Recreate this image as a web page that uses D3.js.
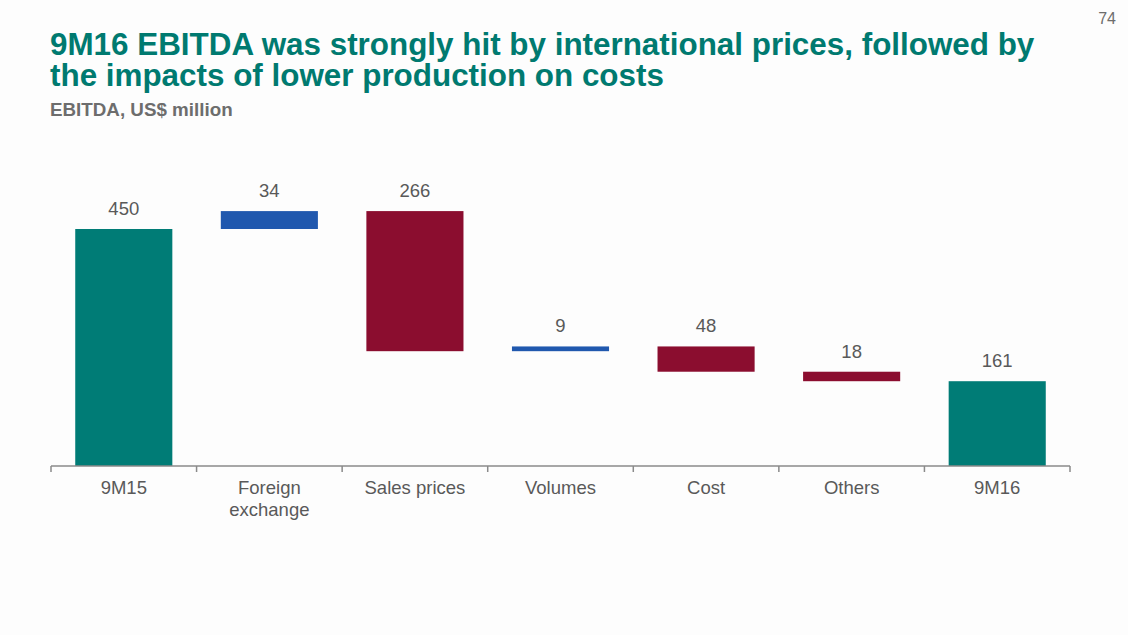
<!DOCTYPE html>
<html><head><meta charset="utf-8">
<script src="https://cdn.jsdelivr.net/npm/d3@7"></script>
<style>html,body{margin:0;padding:0;background:#fdfdfd;}svg{display:block;}</style>
</head><body><svg id="c" width="1128" height="635"></svg>
<script>
const categories = ["9M15", "Foreign exchange", "Sales prices", "Volumes", "Cost", "Others", "9M16"];
const values = [450, 34, -266, 9, -48, -18, 161];
const kinds = ["total", "delta", "delta", "delta", "delta", "delta", "total"];
const labelLines = [["9M15"], ["Foreign", "exchange"], ["Sales prices"], ["Volumes"], ["Cost"], ["Others"], ["9M16"]];
const titleLines = ["9M16 EBITDA was strongly hit by international prices, followed by", "the impacts of lower production on costs"];

const W = 1128, H = 635;
const svg = d3.select("#c");
const font = "'Liberation Sans', Arial, sans-serif";
const colors = {total: "#007c76", up: "#2058ae", down: "#8b0d2f"};

// compute waterfall
let run = 0;
const bars = categories.map((c, i) => {
  let y0, y1, type;
  if (kinds[i] === "total") { y0 = 0; y1 = values[i]; run = values[i]; type = "total"; }
  else { y0 = run; y1 = run + values[i]; run = y1; type = values[i] >= 0 ? "up" : "down"; }
  return {c, i, lo: Math.min(y0, y1), hi: Math.max(y0, y1), type, label: Math.abs(values[i])};
});

const x = d3.scaleBand().domain(categories).range([51, 1070]).paddingInner(0.333).paddingOuter(0.1665);
const y = d3.scaleLinear().domain([0, 450]).range([466, 229]);

// title (one text block, two lines)
const title = svg.append("text").attr("x", 50).attr("y", 55).attr("font-family", font).attr("font-weight", "bold")
  .attr("font-size", 31.4).attr("fill", "#007a70");
title.selectAll("tspan").data(titleLines).join("tspan")
  .attr("x", 50).attr("dy", (d, j) => j === 0 ? 0 : 31).text(d => d);
svg.append("text").attr("x", 50).attr("y", 116).attr("font-family", font).attr("font-weight", "bold")
  .attr("font-size", 18.8).attr("fill", "#6d6d6d").text("EBITDA, US$ million");
svg.append("text").attr("x", 1116).attr("y", 24).attr("text-anchor", "end").attr("font-family", font)
  .attr("font-size", 16).attr("fill", "#6d6d6d").text("74");

// bars
svg.append("g").selectAll("rect").data(bars).join("rect")
  .attr("x", d => x(d.c)).attr("width", x.bandwidth())
  .attr("y", d => y(d.hi)).attr("height", d => Math.max(1, y(d.lo) - y(d.hi)))
  .attr("fill", d => colors[d.type]);

// value labels
svg.append("g").selectAll("text").data(bars).join("text")
  .attr("x", d => x(d.c) + x.bandwidth() / 2).attr("y", d => y(d.hi) - 14)
  .attr("text-anchor", "middle").attr("font-family", font).attr("font-size", 18.5).attr("fill", "#595959")
  .text(d => d.label);

// axis
const axisY = y(0);
const g = svg.append("g").attr("transform", `translate(0,${axisY})`);
g.append("line").attr("x1", 51).attr("x2", 1070).attr("stroke", "#8a8a8a").attr("stroke-width", 1.5);
const tickXs = categories.map(c => x(c) - x.step() * x.paddingInner() / 2).concat([1070]);
g.selectAll("line.t").data(tickXs).join("line").attr("class", "t")
  .attr("x1", d => d).attr("x2", d => d).attr("y1", 0).attr("y2", 6).attr("stroke", "#8a8a8a").attr("stroke-width", 1.5);

const lab = svg.append("g").selectAll("text").data(categories).join("text")
  .attr("x", c => x(c) + x.bandwidth() / 2).attr("y", 494)
  .attr("text-anchor", "middle").attr("font-family", font).attr("font-size", 18.5).attr("fill", "#595959");
lab.each(function(c, i) {
  d3.select(this).selectAll("tspan").data(labelLines[i]).join("tspan")
    .attr("x", x(c) + x.bandwidth() / 2).attr("dy", (d, j) => j === 0 ? 0 : 22).text(d => d);
});
</script></body></html>
